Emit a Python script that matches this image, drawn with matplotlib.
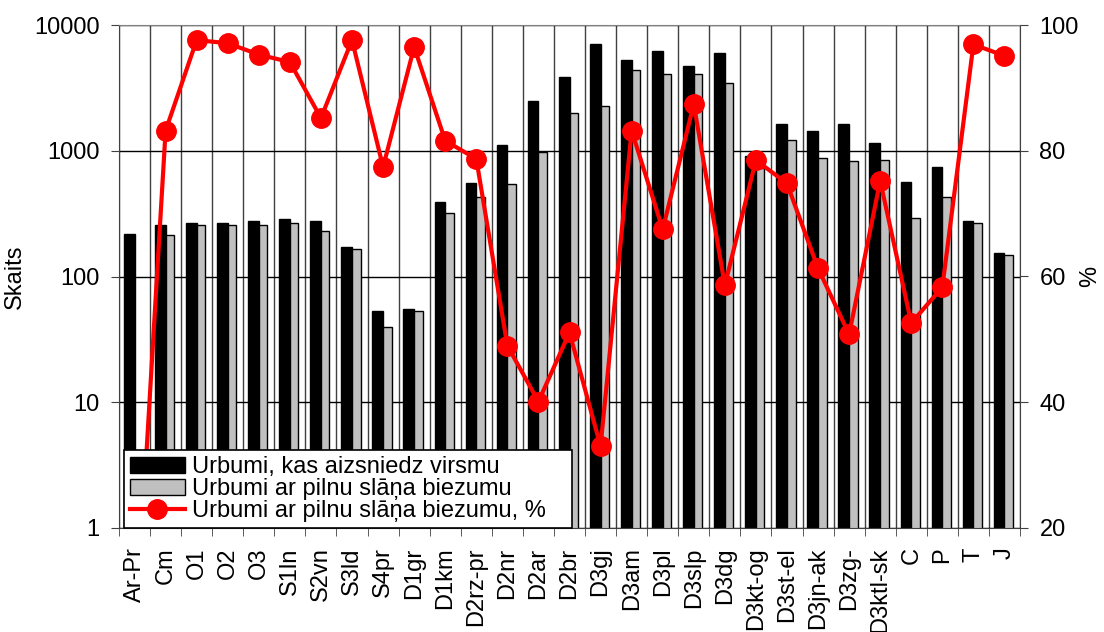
import numpy as np
import matplotlib
matplotlib.use("Agg")
import matplotlib.pyplot as plt
from matplotlib.ticker import NullLocator

plt.rcParams['font.family'] = ['Liberation Sans', 'DejaVu Sans']

# categories (stratigraphic units)
units = ["Ar-Pr", "Cm", "O1", "O2", "O3", "S1ln", "S2vn", "S3ld", "S4pr", "D1gr",
         "D1km", "D2rz-pr", "D2nr", "D2ar", "D2br", "D3gj", "D3am", "D3pl", "D3slp",
         "D3dg", "D3kt-og", "D3st-el", "D3jn-ak", "D3zg-", "D3ktl-sk", "C", "P", "T", "J"]

# wells reaching the surface of the layer
reach_top = [217, 256, 266, 266, 274, 285, 274, 171, 53, 55,
             388, 549, 1120, 2465, 3836, 7065, 5222, 6193, 4689,
             5960, 910, 1636, 1423, 1636, 1163, 567, 739, 274, 154]

# wells with full layer thickness
full_thick = [0, 215, 256, 256, 256, 264, 230, 165, 40, 53,
              321, 427, 542, 969, 2001, 2271, 4403, 4083, 4083,
              3466, 730, 1208, 876, 828, 849, 294, 427, 264, 148]

# share of full thickness, %
full_pct = [0, 83.2, 97.6, 97.1, 95.3, 94.1, 85.2, 97.6, 77.4, 96.5,
            81.6, 78.7, 49.0, 40.1, 51.1, 33.0, 83.2, 67.5, 87.4,
            58.6, 78.5, 74.8, 61.3, 50.8, 75.2, 52.6, 58.3, 96.9, 95.1]

log_ticks = [1, 10, 100, 1000, 10000]
pct_ticks = [20, 40, 60, 80, 100]

x = np.arange(len(units))

fig = plt.figure(figsize=(11.04, 6.32), dpi=100)
ax = fig.add_axes([119 / 1104, 1 - 528 / 632, 901 / 1104, 503 / 632])
ax.set_yscale('log')
ax.set_axisbelow(True)

b1 = ax.bar(x - 0.345, reach_top, width=0.345, align='edge', color='black',
            edgecolor='black', linewidth=1, label="Urbumi, kas aizsniedz virsmu")
b2 = ax.bar(x, full_thick, width=0.275, align='edge', color='#c0c0c0',
            edgecolor='black', linewidth=1, label="Urbumi ar pilnu slāņa biezumu")

ax.set_ylim(1, 10000)
ax.set_xlim(-0.5, len(units) - 0.5)
ax.set_yticks(log_ticks)
ax.set_yticklabels([str(t) for t in log_ticks], fontsize=17)
ax.yaxis.set_minor_locator(NullLocator())
ax.set_xticks(x)
ax.set_xticklabels(units, rotation=90, fontsize=17)
ax.set_xticks(np.arange(len(units) + 1) - 0.5, minor=True)
ax.tick_params(axis='x', which='major', length=0, pad=14)
ax.tick_params(axis='x', which='minor', length=6, direction='out', color='#404040')
ax.tick_params(axis='y', length=6, direction='out', pad=8, color='#404040')
ax.grid(axis='y', which='major', color='black', linewidth=1)
ax.grid(axis='x', which='minor', color='#404040', linewidth=1)
ax.set_ylabel("Skaits", fontsize=17, labelpad=6)
for s in ax.spines.values():
    s.set_color('#404040')
ax.spines['top'].set_color('#808080')

ax2 = ax.twinx()
ln, = ax2.plot(x, full_pct, color='red', linewidth=3, marker='o', markersize=14,
               label="Urbumi ar pilnu slāņa biezumu, %")
ax2.set_ylim(20, 100)
ax2.set_yticks(pct_ticks)
ax2.set_yticklabels([str(t) for t in pct_ticks], fontsize=17)
ax2.tick_params(axis='y', length=6, direction='out', pad=8, color='#404040')
ax2.set_ylabel("%", fontsize=17)
ax2.yaxis.set_label_coords(1.066, 0.5)
for s in ax2.spines.values():
    s.set_visible(False)

leg = ax2.legend(handles=[b1, b2, ln], loc='lower left',
                 bbox_to_anchor=(0.006, 0.0, 0.497, 0.165), mode='expand',
                 fontsize=17, frameon=True, fancybox=False, framealpha=1,
                 edgecolor='black', borderpad=0.25, labelspacing=0.0,
                 handlelength=2.3, handletextpad=0.3, borderaxespad=0)
leg.get_frame().set_linewidth(1.2)

fig.savefig("out.png", dpi=100)
